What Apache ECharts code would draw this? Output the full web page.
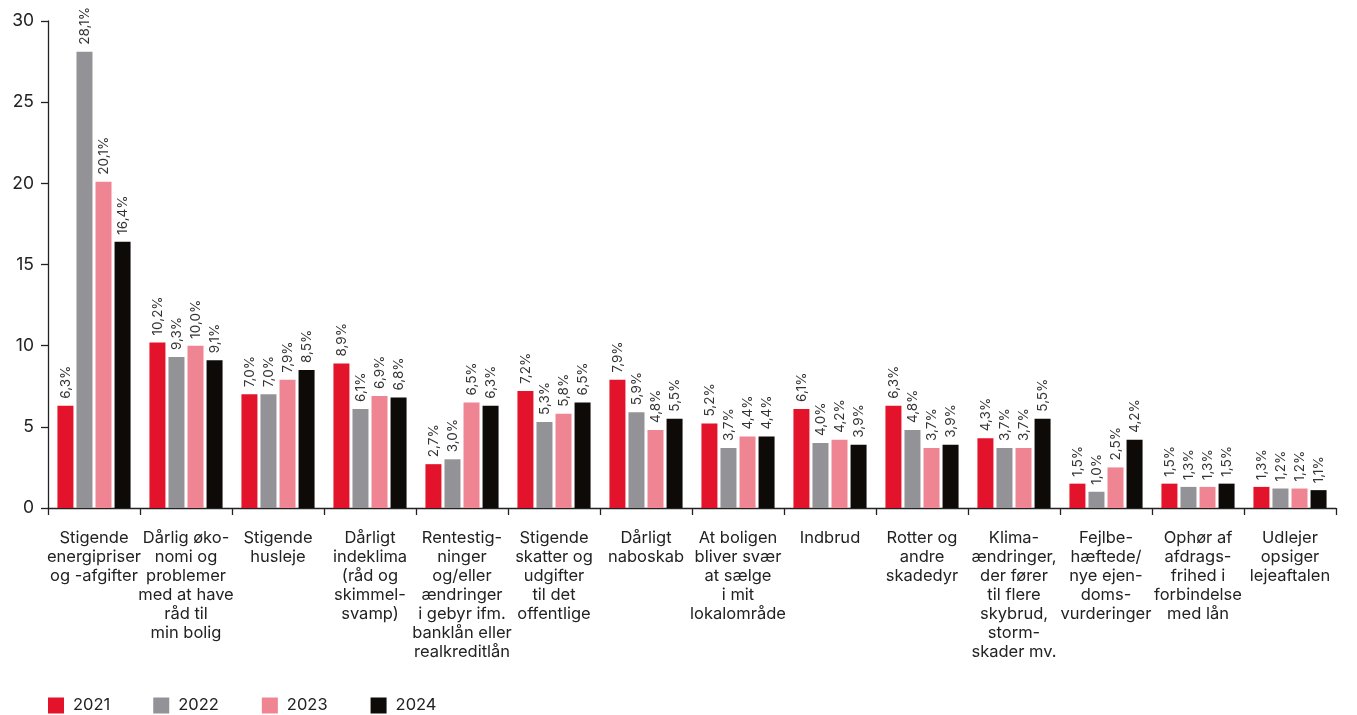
<!DOCTYPE html>
<html>
<head>
<meta charset="utf-8">
<script src="https://cdn.jsdelivr.net/npm/echarts@6/dist/echarts.min.js"></script>
<style>
  html, body { margin: 0; padding: 0; background: #fff; }
  #chart { width: 1357px; height: 715px; }
</style>
</head>
<body>
<div id="chart"></div>
<script>
// Bekymringer om boligen, andel i procent pr. år
const categories = [
  'Stigende\nenergipriser\nog -afgifter',
  'Dårlig øko-\nnomi og\nproblemer\nmed at have\nråd til\nmin bolig',
  'Stigende\nhusleje',
  'Dårligt\nindeklima\n(råd og\nskimmel-\nsvamp)',
  'Rentestig-\nninger\nog/eller\nændringer\ni gebyr ifm.\nbanklån eller\nrealkreditlån',
  'Stigende\nskatter og\nudgifter\ntil det\noffentlige',
  'Dårligt\nnaboskab',
  'At boligen\nbliver svær\nat sælge\ni mit\nlokalområde',
  'Indbrud',
  'Rotter og\nandre\nskadedyr',
  'Klima-\nændringer,\nder fører\ntil flere\nskybrud,\nstorm-\nskader mv.',
  'Fejlbe-\nhæftede/\nnye ejen-\ndoms-\nvurderinger',
  'Ophør af\nafdrags-\nfrihed i\nforbindelse\nmed lån',
  'Udlejer\nopsiger\nlejeaftalen'
];

const years = ['2021', '2022', '2023', '2024'];

const values2021 = [6.3, 10.2, 7.0, 8.9, 2.7, 7.2, 7.9, 5.2, 6.1, 6.3, 4.3, 1.5, 1.5, 1.3];
const values2022 = [28.1, 9.3, 7.0, 6.1, 3.0, 5.3, 5.9, 3.7, 4.0, 4.8, 3.7, 1.0, 1.3, 1.2];
const values2023 = [20.1, 10.0, 7.9, 6.9, 6.5, 5.8, 4.8, 4.4, 4.2, 3.7, 3.7, 2.5, 1.3, 1.2];
const values2024 = [16.4, 9.1, 8.5, 6.8, 6.3, 6.5, 5.5, 4.4, 3.9, 3.9, 5.5, 4.2, 1.5, 1.1];

const yTicks = [0, 5, 10, 15, 20, 25, 30];

const colors = ['#e3132b', '#939297', '#ef8493', '#0d0a08'];
const FONT = 'Inter, "Noto Sans", sans-serif';

function makeSeries(name, data, color) {
  return {
    name: name,
    type: 'bar',
    data: data,
    barWidth: 16,
    barGap: '19%',
    itemStyle: { color: color },
    label: {
      show: true,
      position: 'top',
      rotate: 90,
      align: 'left',
      verticalAlign: 'middle',
      distance: 7,
      fontFamily: FONT,
      fontSize: 13.5,
      color: '#333',
      formatter: p => p.value.toFixed(1).replace('.', ',') + '%'
    }
  };
}

const chart = echarts.init(document.getElementById('chart'), null, { renderer: 'canvas' });
chart.setOption({
  animation: false,
  textStyle: { fontFamily: FONT },
  grid: { left: 48, right: 21, top: 21, bottom: 207, containLabel: false },
  legend: {
    data: years,
    left: 43,
    top: 692,
    itemWidth: 16,
    itemHeight: 16,
    itemGap: 43,
    icon: 'rect',
    textStyle: { fontFamily: FONT, fontSize: 16.5, color: '#222', padding: [0, 0, 0, 4] }
  },
  xAxis: {
    type: 'category',
    data: categories,
    axisLine: { lineStyle: { color: '#222', width: 1.3 } },
    axisTick: { show: true, length: 7, alignWithLabel: false, lineStyle: { color: '#222', width: 1.3 } },
    axisLabel: {
      interval: 0,
      margin: 21,
      fontFamily: FONT,
      fontSize: 16.5,
      lineHeight: 19,
      color: '#222',
      align: 'center',
      verticalAlign: 'top'
    }
  },
  yAxis: {
    type: 'value',
    min: yTicks[0],
    max: yTicks[yTicks.length - 1],
    interval: 5,
    splitLine: { show: false },
    axisLine: { show: true, lineStyle: { color: '#222', width: 1.3 } },
    axisTick: { show: true, length: 7, lineStyle: { color: '#222', width: 1.3 } },
    axisLabel: { fontFamily: FONT, fontSize: 17.5, color: '#222', margin: 14 }
  },
  series: [
    makeSeries(years[0], values2021, colors[0]),
    makeSeries(years[1], values2022, colors[1]),
    makeSeries(years[2], values2023, colors[2]),
    makeSeries(years[3], values2024, colors[3])
  ]
});
</script>
</body>
</html>
